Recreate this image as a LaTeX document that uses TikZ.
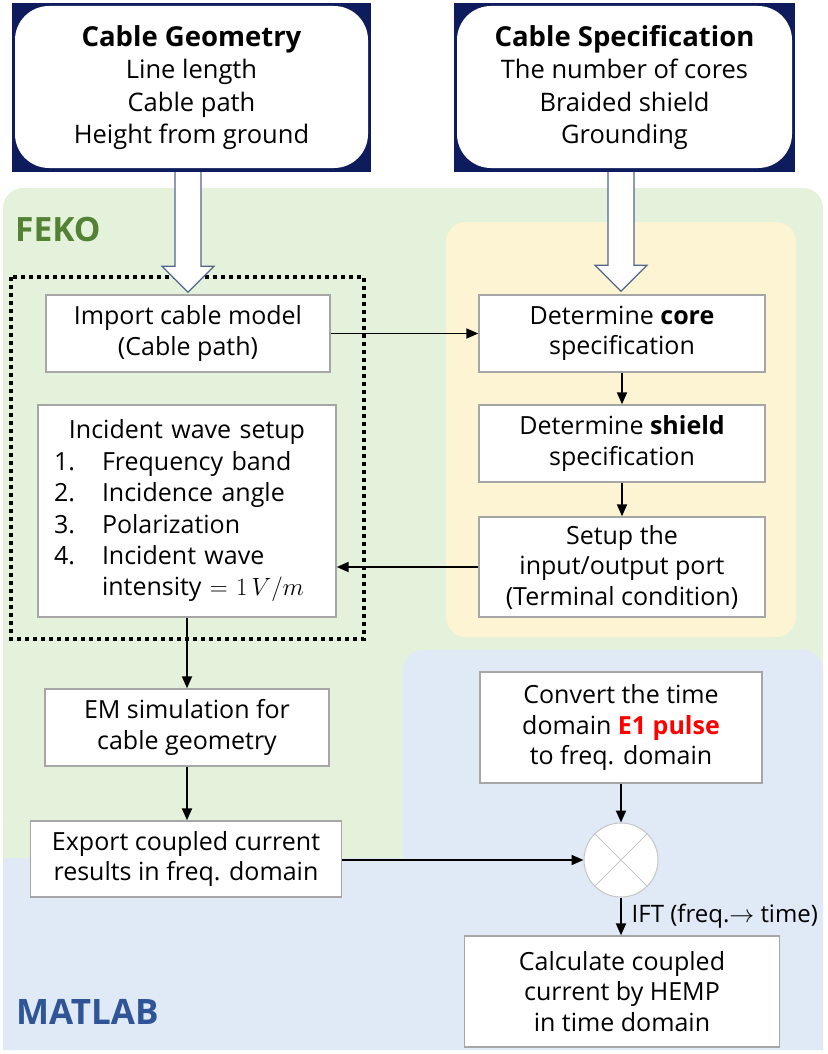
\documentclass[tikz,border=0pt]{standalone}
\usepackage{fontspec}
\setmainfont{Open Sans}
\usetikzlibrary{arrows.meta,calc}
\definecolor{navyc}{HTML}{0E1C5E}
\definecolor{greenbg}{HTML}{E4F1DB}
\definecolor{yellowbg}{HTML}{FDF4D3}
\definecolor{bluebg}{HTML}{DFEAF6}
\definecolor{fekoc}{HTML}{548235}
\definecolor{matlabc}{HTML}{2F5597}
\definecolor{boxborder}{HTML}{A6A6A6}
\definecolor{hollowc}{HTML}{52658F}
\definecolor{redc}{HTML}{FF0000}
\begin{document}
\begin{tikzpicture}[x=1pt,y=-1pt,
  stepbox/.style={draw=boxborder, line width=1.4pt, fill=white, align=center,
    font=\fontsize{25}{30.5}\selectfont, inner sep=0pt},
  conn/.style={line width=1.9pt, -{Triangle[length=12pt,width=10pt]}},
  topbox/.style={fill=navyc, inner sep=0pt, align=center,
    font=\fontsize{25.5}{32.5}\selectfont,
    path picture={\fill[white, rounded corners=34pt]
      ([shift={(3pt,4pt)}]path picture bounding box.south west) rectangle
      ([shift={(-3pt,-3pt)}]path picture bounding box.north east);}},
  hollow/.style={fill=white, draw=hollowc, line width=1.2pt, line join=miter},
  region/.style={rounded corners=20pt},
  lbl/.style={anchor=west, inner sep=2pt}
]
\useasboundingbox (0,0) rectangle (827,1054);

% background regions
\fill[greenbg, region] (3,188) rectangle (823,900);
\fill[yellowbg, region] (446,222) rectangle (796,637);
\fill[bluebg] (3,1050) -- (3,858) -- (403,858) [rounded corners=20pt] -- (403,650) -- (823,650) [sharp corners] -- (823,1050) -- cycle;

\node[lbl, text=fekoc, font=\fontsize{33.5}{40}\selectfont\bfseries] (feko) at (13,230) {FEKO};
\node[lbl, text=matlabc, font=\fontsize{35}{42}\selectfont\bfseries] (matlab) at (14,1012) {MATLAB};

% top boxes
\node[topbox, minimum width=359pt, minimum height=169pt] (geo) at (191.5,87.5)
  {{\fontsize{27.5}{34}\selectfont\bfseries Cable Geometry}\\Line length\\Cable path\\Height from ground};
\node[topbox, minimum width=341pt, minimum height=169pt] (spec) at (624.5,87.5)
  {{\fontsize{27.5}{34}\selectfont\bfseries Cable Specification}\\The number of cores\\Braided shield\\Grounding};

% dotted frame
\draw[line width=4.3pt, dash pattern=on 4.3pt off 3.7pt] (11,277) rectangle (364,639);

% process boxes
\node[stepbox, minimum width=284pt, minimum height=77pt] (import) at (188,333.5)
  {Import cable model\\(Cable path)};
\node[stepbox, minimum width=286pt, minimum height=77pt] (core) at (622,333.5)
  {Determine \textbf{core}\\specification};
\node[stepbox, minimum width=298pt, minimum height=212pt, text width=266pt, align=left,
      font=\fontsize{25}{31.4}\selectfont] (incident) at (187,511)
  {\makebox[266pt]{Incident wave setup}\\
   \makebox[48pt][l]{1.}Frequency band\\
   \makebox[48pt][l]{2.}Incidence angle\\
   \makebox[48pt][l]{3.}Polarization\\
   \makebox[48pt][l]{4.}Incident wave\\
   \hspace*{48pt}intensity $=$ $1\,V/m$};
\node[stepbox, minimum width=286pt, minimum height=77pt] (shield) at (622,443.5)
  {Determine \textbf{shield}\\specification};
\node[stepbox, minimum width=286pt, minimum height=100pt] (setup) at (622,567)
  {Setup the\\input/output port\\(Terminal condition)};
\node[stepbox, minimum width=284pt, minimum height=77pt] (em) at (187,727.5)
  {EM simulation for\\cable geometry};
\node[stepbox, minimum width=311pt, minimum height=76pt] (export) at (186,859)
  {Export coupled current\\results in freq. domain};
\node[stepbox, minimum width=282pt, minimum height=111pt] (convert) at (621,727.5)
  {Convert the time\\domain \textcolor{redc}{\textbf{E1 pulse}}\\to freq. domain};
\node[stepbox, minimum width=315pt, minimum height=111pt] (calc) at (622,991.5)
  {Calculate coupled\\current by HEMP\\in time domain};
\node[circle, draw=gray!45, fill=white, line width=1pt, minimum size=74pt, inner sep=0pt] (mult) at (621,860) {};
\draw[gray!45, line width=0.8pt] (mult.north west) -- (mult.south east) (mult.north east) -- (mult.south west);

% hollow arrows
\coordinate (tipL) at ($(import.north)+(0,-2)$);
\coordinate (tipR) at ($(core.north)+(-1,-3)$);
\filldraw[hollow] ($(tipL |- geo.south)+(-13,0)$) -- ($(tipL)+(-13,-26)$) -- ($(tipL)+(-26,-26)$) -- (tipL)
  -- ($(tipL)+(26,-26)$) -- ($(tipL)+(13,-26)$) -- ($(tipL |- geo.south)+(13,0)$);
\filldraw[hollow] ($(tipR |- spec.south)+(-13,0)$) -- ($(tipR)+(-13,-26)$) -- ($(tipR)+(-26,-26)$) -- (tipR)
  -- ($(tipR)+(26,-26)$) -- ($(tipR)+(13,-26)$) -- ($(tipR |- spec.south)+(13,0)$);

% connectors
\draw[conn] (import.east) -- (core.west);
\draw[conn] (core.south) -- (shield.north);
\draw[conn] (shield.south) -- (setup.north);
\draw[conn] (setup.west) -- (setup.west -| incident.east);
\draw[conn] (incident.south) -- (em.north);
\draw[conn] (em.south) -- (em.south |- export.north);
\draw[conn] (export.east |- mult.west) -- (mult.west);
\draw[conn] (convert.south) -- (mult.north);
\draw[conn] (mult.south) -- (mult.south |- calc.north);
\node[anchor=west, font=\fontsize{24}{30}\selectfont, inner sep=0pt] (ift) at ($(mult.south)!0.5!(calc.north)+(10,0)$) {IFT (freq.$\to$ time)};
\end{tikzpicture}
\end{document}
